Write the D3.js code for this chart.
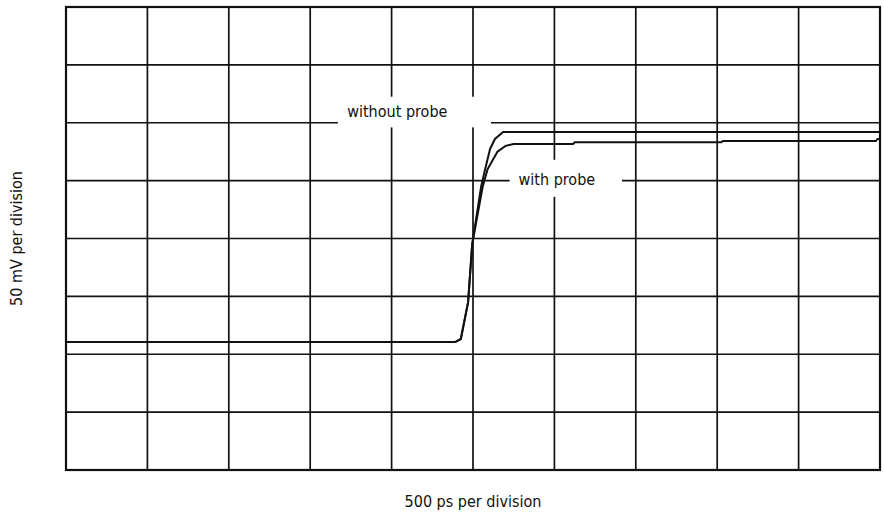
<!DOCTYPE html>
<html>
<head>
<meta charset="utf-8">
<script src="https://cdn.jsdelivr.net/npm/d3@7"></script>
<style>
  body { margin: 0; background: #fff; }
  text { font-family: "Liberation Sans Narrow", "DejaVu Sans Condensed", "Roboto", sans-serif; fill: #111; }
</style>
</head>
<body>
<div id="chart"></div>
<script>
// divisions on the scope screen
const xDivs = d3.range(0, 11);
const yDivs = d3.range(0, 9);

// traces, in divisions (x: 500 ps/div, y: 50 mV/div)
const withoutProbe = [
  [0, 2.21], [4.78, 2.21], [4.85, 2.26], [4.94, 2.9], [4.99, 3.9],
  [5.10, 4.9], [5.15, 5.2], [5.21, 5.55], [5.27, 5.72], [5.37, 5.84], [10, 5.84]
];
const withProbe = [
  [0, 2.21], [4.78, 2.21], [4.85, 2.26], [4.94, 2.9], [4.99, 3.9],
  [5.12, 4.9], [5.18, 5.2], [5.30, 5.5], [5.40, 5.6], [5.50, 5.633],
  [6.23, 5.633], [6.25, 5.663], [8.05, 5.663], [8.07, 5.684],
  [9.95, 5.684], [9.97, 5.72], [10, 5.72]
];

const traceLabels = ['without probe', 'with probe'];
const xLabel = '500 ps per division';
const yLabel = '50 mV per division';

const W = 884, H = 520;
const margin = {top: 7, right: 4, bottom: 50, left: 66};

const svg = d3.select('#chart').append('svg')
  .attr('width', W)
  .attr('height', H);

const x = d3.scaleLinear().domain([0, 10]).range([margin.left, W - margin.right]);
const y = d3.scaleLinear().domain([0, 8]).range([H - margin.bottom, margin.top]);

// grid
const grid = svg.append('g').attr('stroke', '#111').attr('stroke-width', 1.7);
grid.selectAll('.vline').data(xDivs).enter().append('line')
  .attr('class', 'vline')
  .attr('x1', d => x(d)).attr('x2', d => x(d))
  .attr('y1', y(0)).attr('y2', y(8));
grid.selectAll('.hline').data(yDivs).enter().append('line')
  .attr('class', 'hline')
  .attr('x1', x(0)).attr('x2', x(10))
  .attr('y1', d => y(d)).attr('y2', d => y(d));

// border
svg.append('rect')
  .attr('x', x(0)).attr('y', y(8))
  .attr('width', x(10) - x(0)).attr('height', y(0) - y(8))
  .attr('fill', 'none').attr('stroke', '#111').attr('stroke-width', 2.2);

// label knock-outs (white boxes that break the grid)
const labels = [
  {text: traceLabels[0], x0: 3.34, x1: 5.22, y0: 6.45, y1: 5.92, tx: 4.07, ty: 6.17},
  {text: traceLabels[1], x0: 5.45, x1: 6.83, y0: 5.36, y1: 4.72, tx: 6.03, ty: 5.01}
];
svg.selectAll('.knock').data(labels).enter().append('rect')
  .attr('x', d => x(d.x0)).attr('y', d => y(d.y0))
  .attr('width', d => x(d.x1) - x(d.x0)).attr('height', d => y(d.y1) - y(d.y0))
  .attr('fill', '#fff');

// traces
const line = d3.line().x(d => x(d[0])).y(d => y(d[1])).curve(d3.curveLinear);
svg.append('path').datum(withoutProbe)
  .attr('d', line).attr('fill', 'none').attr('stroke', '#111').attr('stroke-width', 2);
svg.append('path').datum(withProbe)
  .attr('d', line).attr('fill', 'none').attr('stroke', '#111').attr('stroke-width', 2);

svg.selectAll('.lbl').data(labels).enter().append('text')
  .attr('x', d => x(d.tx)).attr('y', d => y(d.ty))
  .attr('text-anchor', 'middle')
  .attr('dominant-baseline', 'middle')
  .attr('font-size', 16)
  .text(d => d.text);

// axis titles
svg.append('text')
  .attr('x', x(5)).attr('y', 507)
  .attr('text-anchor', 'middle')
  .attr('font-size', 16)
  .text(xLabel);
svg.append('text')
  .attr('transform', `translate(22, ${y(4)}) rotate(-90)`)
  .attr('text-anchor', 'middle')
  .attr('font-size', 16)
  .text(yLabel);
</script>
</body>
</html>
